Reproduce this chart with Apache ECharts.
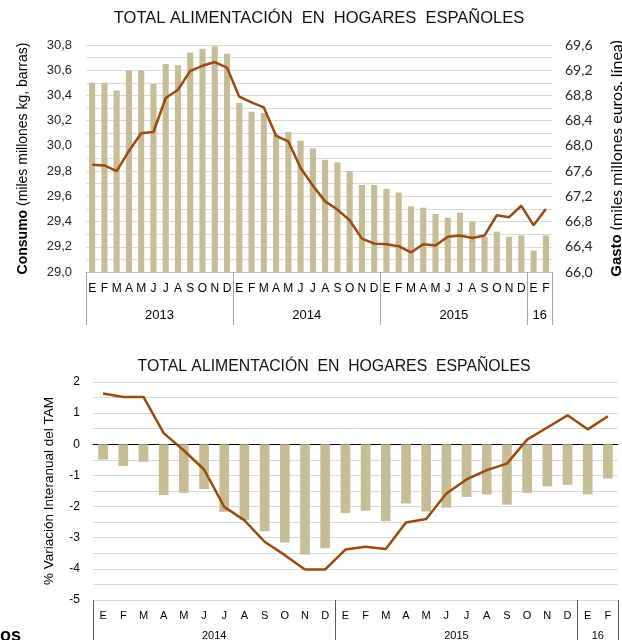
<!DOCTYPE html>
<html>
<head>
<meta charset="utf-8">
<script src="https://cdn.jsdelivr.net/npm/echarts@6/dist/echarts.min.js"></script>
<style>
  html, body { margin: 0; padding: 0; background: #fff; }
  #chart { width: 622px; height: 640px; }
</style>
</head>
<body>
<div id="chart"></div>
<script>
const monthLetters = ['E', 'F', 'M', 'A', 'M', 'J', 'J', 'A', 'S', 'O', 'N', 'D']

// gráfico superior
const topYears = ['2013', '2014', '2015', '16']
const topYearMonths = [12, 12, 12, 2]
// consumo, miles millones kg (barras)
const consumo = [
  30.50, 30.50, 30.44, 30.60, 30.60, 30.49, 30.65, 30.64, 30.74, 30.77, 30.79, 30.73,
  30.34, 30.27, 30.26, 30.09, 30.11, 30.04, 29.98, 29.89, 29.87, 29.80, 29.69, 29.69,
  29.66, 29.63, 29.52, 29.51, 29.46, 29.43, 29.47, 29.40, 29.28, 29.32, 29.28, 29.29,
  29.17, 29.29,
]
// gasto, miles millones euros (línea)
const gasto = [
  67.70, 67.69, 67.60, 67.92, 68.20, 68.22, 68.76, 68.89, 69.19, 69.27, 69.33, 69.24,
  68.78, 68.69, 68.61, 68.16, 68.07, 67.65, 67.37, 67.12, 66.99, 66.82, 66.53, 66.45,
  66.44, 66.41, 66.31, 66.44, 66.42, 66.56, 66.58, 66.54, 66.58, 66.90, 66.87, 67.05,
  66.74, 67.00,
]

// gráfico inferior
const bottomYears = ['2014', '2015', '16']
const bottomYearMonths = [12, 12, 2]
// % variación interanual del TAM
const varConsumo = [
  -0.49, -0.70, -0.56, -1.63, -1.56, -1.44, -2.17, -2.44, -2.79, -3.15, -3.54, -3.34,
  -2.21, -2.13, -2.47, -1.90, -2.16, -2.04, -1.69, -1.61, -1.94, -1.56, -1.35, -1.30,
  -1.61, -1.10,
]
const varGasto = [
  1.63, 1.52, 1.52, 0.36, -0.20, -0.81, -2.01, -2.44, -3.13, -3.56, -4.02, -4.02,
  -3.38, -3.29, -3.36, -2.51, -2.40, -1.58, -1.13, -0.83, -0.62, 0.15, 0.54, 0.93,
  0.48, 0.90,
]

const titleText = 'TOTAL ALIMENTACIÓN  EN  HOGARES  ESPAÑOLES'
const barColor = '#c6bd97'
const lineColor = '#9a4a0e'
const gridColor = '#d9d9d9'
const font = '"Liberation Sans", Arial, sans-serif'

// etiquetas de mes y posiciones de los años
const buildMonths = (counts) => counts.flatMap((n) => monthLetters.slice(0, n))
const buildYearPos = (counts) => {
  let start = 0
  const bounds = [0]
  const mids = []
  counts.forEach((n) => {
    mids.push(start + n / 2)
    start += n
    bounds.push(start)
  })
  return { bounds, mids }
}
const topMonths = buildMonths(topYearMonths)
const bottomMonths = buildMonths(bottomYearMonths)
const topPos = buildYearPos(topYearMonths)
const bottomPos = buildYearPos(bottomYearMonths)

const comma = (v) => v.toFixed(1).replace('.', ',')
const yearName = (years, mids) => (v) => {
  const i = mids.findIndex((m) => Math.abs(m - v) < 0.01)
  return i >= 0 ? years[i] : ''
}

const myChart = echarts.init(document.getElementById('chart'))

const option = {
  animation: false,
  textStyle: { fontFamily: font },
  graphic: [
    {
      type: 'text',
      style: { text: titleText, x: 319, y: 18, align: 'center', verticalAlign: 'middle', font: '16.5px ' + font, fill: '#111' },
    },
    {
      type: 'text',
      style: { text: titleText, x: 334, y: 367, align: 'center', verticalAlign: 'middle', font: '15.8px ' + font, fill: '#111' },
    },
    {
      type: 'text',
      style: { text: 'os', x: 0, y: 627, font: 'bold 18px ' + font, fill: '#000' },
    },
  ],
  grid: [
    { left: 86, right: 70, top: 45, height: 227, outerBoundsMode: 'none' },
    { left: 93, right: 4, top: 382, height: 218, outerBoundsMode: 'none' },
  ],
  xAxis: [
    // meses, gráfico superior
    {
      type: 'category',
      gridIndex: 0,
      position: 'bottom',
      data: topMonths,
      axisLine: { lineStyle: { color: '#bfbfbf' } },
      axisTick: { show: false },
      axisLabel: { interval: 0, fontSize: 12, color: '#000', margin: 11 },
    },
    // años, gráfico superior
    {
      type: 'value',
      gridIndex: 0,
      position: 'bottom',
      min: 0,
      max: topPos.bounds[topPos.bounds.length - 1],
      axisLine: { show: false, onZero: false },
      splitLine: { show: false },
      axisTick: { show: true, customValues: topPos.bounds, length: 53, lineStyle: { color: '#a6a6a6' } },
      axisLabel: { customValues: topPos.mids, formatter: yearName(topYears, topPos.mids), fontSize: 13, color: '#000', margin: 37 },
    },
    // meses, gráfico inferior
    {
      type: 'category',
      gridIndex: 1,
      position: 'bottom',
      data: bottomMonths,
      axisLine: { show: false, onZero: false },
      axisTick: { show: false },
      axisLabel: { interval: 0, fontSize: 11, color: '#000', margin: 10 },
    },
    // línea del cero
    {
      type: 'category',
      gridIndex: 1,
      position: 'bottom',
      data: bottomMonths,
      axisLine: { show: true, onZero: true, lineStyle: { color: '#000', width: 1 } },
      axisTick: { show: false },
      axisLabel: { show: false },
    },
    // años, gráfico inferior
    {
      type: 'value',
      gridIndex: 1,
      position: 'bottom',
      min: 0,
      max: bottomPos.bounds[bottomPos.bounds.length - 1],
      axisLine: { show: false, onZero: false },
      splitLine: { show: false },
      axisTick: { show: true, customValues: bottomPos.bounds, length: 45, lineStyle: { color: '#595959' } },
      axisLabel: { customValues: bottomPos.mids, formatter: yearName(bottomYears, bottomPos.mids), fontSize: 11, color: '#000', margin: 30 },
    },
  ],
  yAxis: [
    {
      type: 'value',
      gridIndex: 0,
      min: 29,
      max: 30.8,
      interval: 0.2,
      name: '{b|Consumo} (miles millones kg, barras)',
      nameLocation: 'middle',
      nameGap: 56,
      nameRotate: 90,
      nameTextStyle: { fontSize: 14, color: '#000', rich: { b: { fontSize: 14, fontWeight: 'bold', color: '#000' } } },
      axisLine: { show: false },
      axisTick: { show: false },
      axisLabel: { formatter: comma, fontSize: 13, color: '#262626', margin: 14 },
      splitLine: { lineStyle: { color: gridColor } },
      minorTick: { show: false, splitNumber: 2 },
      minorSplitLine: { show: true, lineStyle: { color: gridColor } },
    },
    {
      type: 'value',
      gridIndex: 0,
      position: 'right',
      min: 66,
      max: 69.6,
      interval: 0.4,
      name: '{b|Gasto} (miles millones euros, línea)',
      nameLocation: 'middle',
      nameGap: 57,
      nameRotate: 90,
      nameTextStyle: { fontSize: 16, color: '#000', fontFamily: 'Lato, sans-serif', rich: { b: { fontSize: 15, fontWeight: 'bold', color: '#000', fontFamily: font } } },
      axisLine: { show: false },
      axisTick: { show: false },
      axisLabel: { formatter: comma, fontSize: 14, color: '#262626', margin: 13, fontFamily: 'Lato, sans-serif' },
      splitLine: { show: false },
    },
    {
      type: 'value',
      gridIndex: 1,
      min: -5,
      max: 2,
      interval: 1,
      name: '% Variación Interanual del TAM',
      nameLocation: 'middle',
      nameGap: 37,
      nameRotate: 90,
      nameTextStyle: { fontSize: 13.5, color: '#000' },
      axisLine: { show: false },
      axisTick: { show: false },
      axisLabel: { fontSize: 12, color: '#000', margin: 13 },
      splitLine: { lineStyle: { color: gridColor } },
      minorTick: { show: false, splitNumber: 2 },
      minorSplitLine: { show: true, lineStyle: { color: gridColor } },
    },
  ],
  series: [
    {
      name: 'Consumo',
      type: 'bar',
      xAxisIndex: 0,
      yAxisIndex: 0,
      data: consumo,
      barWidth: '50%',
      itemStyle: { color: barColor },
    },
    {
      name: 'Gasto',
      type: 'line',
      xAxisIndex: 0,
      yAxisIndex: 1,
      data: gasto,
      symbol: 'none',
      lineStyle: { color: lineColor, width: 2.5 },
    },
    {
      name: 'Var. consumo',
      type: 'bar',
      xAxisIndex: 2,
      yAxisIndex: 2,
      data: varConsumo,
      barWidth: '48%',
      itemStyle: { color: barColor },
    },
    {
      name: 'Var. gasto',
      type: 'line',
      xAxisIndex: 2,
      yAxisIndex: 2,
      data: varGasto,
      symbol: 'none',
      z: 3,
      lineStyle: { color: lineColor, width: 2.5 },
    },
  ],
}

myChart.setOption(option)
</script>
</body>
</html>
